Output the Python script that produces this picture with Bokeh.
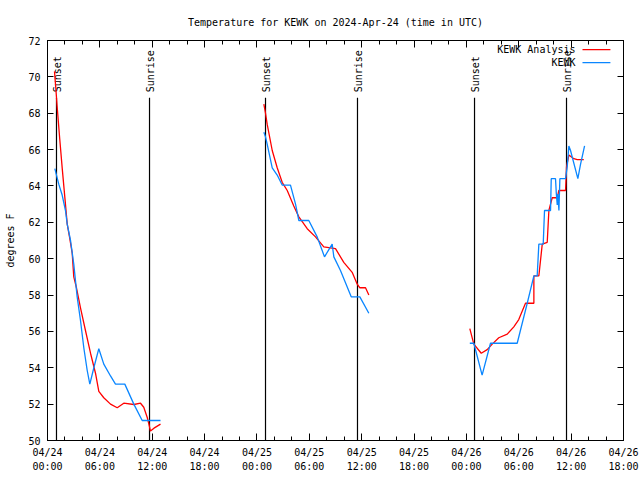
import math
import pandas as pd
from bokeh.plotting import figure
from bokeh.models import (Range1d, FixedTicker, DatetimeAxis, LinearAxis,
                          CustomJSTickFormatter, DatetimeTickFormatter, Label)
from bokeh.embed import file_html
from bokeh.resources import INLINE
from bokeh.core.properties import value

BASE = pd.Timestamp("2024-04-24 00:00")
NAN = float("nan")

# KEWK Analysis (hours since 2024-04-24 00:00 UTC, degrees F); NaN breaks the line
an_hours = [0.80, 0.95, 1.10, 1.40, 1.70, 2.00, 2.26, 2.52, 2.83, 3.01, 3.32, 3.78,
            4.35, 4.93, 5.50, 5.88, 6.45, 7.22, 7.99, 8.74, 9.89, 10.66, 11.03,
            11.42, 11.61, 11.80, 12.20, 12.95,
            13.0,
            24.79, 24.98, 25.17, 25.75, 26.32, 26.89, 27.47, 28.22, 28.80, 29.76,
            30.71, 31.66, 33.00, 33.95, 34.91, 35.49, 35.79, 36.44, 36.82,
            37.0,
            48.39, 48.85, 49.70, 50.38, 50.96, 51.71, 52.68, 53.43, 54.00, 54.77,
            55.73, 55.73, 56.30, 56.69, 57.26, 57.45, 57.83, 58.41, 58.59, 59.36,
            59.47, 59.74, 60.31, 60.70, 61.45]
an_temp = [70.3, 69.4, 68.4, 66.6, 64.9, 63.3, 61.9, 61.2, 60.3, 59.0, 58.4, 57.3,
           56.05, 54.8, 53.7, 52.7, 52.35, 52.0, 51.8, 52.05, 51.98, 52.05, 51.83,
           51.28, 50.92, 50.52, 50.68, 50.9,
           NAN,
           68.5, 68.0, 67.4, 65.95, 65.0, 64.2, 63.75, 62.9, 62.3, 61.65,
           61.2, 60.65, 60.55, 59.8, 59.25, 58.6, 58.4, 58.4, 58.0,
           NAN,
           56.15, 55.3, 54.8, 55.0, 55.3, 55.65, 55.85, 56.25, 56.65, 57.55,
           57.55, 59.05, 59.05, 60.8, 60.9, 62.65, 63.35, 63.35, 63.75, 63.75,
           65.05, 65.7, 65.5, 65.45, 65.45]

# KEWK observations
ob_hours = [0.84, 1.29, 1.68, 2.06, 2.26, 2.64, 3.01, 3.40, 3.78, 4.16, 4.55, 4.85,
            5.31, 5.88, 6.45, 7.22, 7.79, 8.86, 9.89, 10.85, 12.95,
            13.0,
            24.79, 24.98, 25.17, 25.75, 26.32, 26.89, 27.84, 28.42, 28.80, 29.94,
            30.90, 31.74, 32.62, 32.81, 33.57, 34.80, 35.79, 36.82,
            37.0,
            48.39, 48.85, 49.80, 50.76, 53.82, 54.97, 55.73, 56.11, 56.30, 56.80,
            56.95, 57.64, 57.72, 58.21, 58.30, 58.41, 58.48, 58.60, 58.71, 59.36,
            59.55, 59.74, 59.93, 60.77, 61.08, 61.54]
ob_temp = [64.95, 64.1, 63.5, 62.65, 61.9, 61.0, 59.7, 57.9, 56.6, 55.1, 53.85, 53.1,
           54.0, 55.05, 54.2, 53.55, 53.1, 53.1, 52.0, 51.1, 51.1,
           NAN,
           66.95, 66.7, 66.3, 65.0, 64.6, 64.05, 64.05, 63.0, 62.1, 62.1,
           61.2, 60.1, 60.8, 60.1, 59.35, 57.9, 57.9, 57.0,
           NAN,
           55.35, 55.35, 53.6, 55.35, 55.35, 57.55, 59.05, 59.05, 60.8, 60.8,
           62.65, 62.65, 64.4, 64.4, 63.6, 62.95, 63.55, 62.65, 64.4, 64.4,
           65.05, 66.2, 65.95, 64.4, 65.2, 66.2]

sun_hours = [1.03, 11.69, 24.98, 35.52, 48.93, 59.47]
sun_labels = ["Sunset", "Sunrise", "Sunset", "Sunrise", "Sunset", "Sunrise"]

x_tick_hours = list(range(0, 67, 6))
x_minor_hours = list(range(0, 67, 2))
y_ticks = list(range(50, 73, 2))

FONT = "DejaVu Sans Mono"
RED = "#ff0000"
BLUE = "#0a86ff"


def ms(h):
    return (BASE + pd.Timedelta(hours=h)).value / 1e6


def tdt(hours):
    return [BASE + pd.Timedelta(hours=h) for h in hours]


p = figure(width=640, height=480, output_backend="svg", toolbar_location=None,
           x_axis_type="datetime",
           x_range=Range1d(ms(0), ms(66)), y_range=Range1d(50, 72),
           min_border_left=47, min_border_right=17, min_border_top=40,
           min_border_bottom=40)

p.title.text = "Temperature for KEWK on 2024-Apr-24 (time in UTC)"
p.title.text_font = FONT
p.title.text_font_size = "10px"
p.title.text_font_style = "normal"
p.title.text_color = "black"
p.title.align = "center"
p.title.standoff = 26

p.xgrid.visible = False
p.ygrid.visible = False
p.outline_line_color = "black"
p.outline_line_width = 1
p.background_fill_color = "white"
p.border_fill_color = "white"

xticker = FixedTicker(ticks=[ms(h) for h in x_tick_hours],
                      minor_ticks=[ms(h) for h in x_minor_hours])
yticker = FixedTicker(ticks=y_ticks, minor_ticks=[])

fmt = "%m/%d\n%H:%M"
xa = p.xaxis[0]
xa.ticker = xticker
xa.formatter = DatetimeTickFormatter(microseconds=fmt, milliseconds=fmt, seconds=fmt,
                                     minsec=fmt, minutes=fmt, hourmin=fmt, hours=fmt,
                                     days=fmt, months=fmt, years=fmt)
ya = p.yaxis[0]
ya.ticker = yticker
ya.axis_label = "degrees F"

for ax in (xa, ya):
    ax.major_tick_in = 7
    ax.major_tick_out = 0
    ax.minor_tick_in = 4
    ax.minor_tick_out = 0
    ax.axis_line_color = "black"
    ax.major_tick_line_color = "black"
    ax.minor_tick_line_color = "black"
    ax.major_label_text_font = FONT
    ax.major_label_text_font_size = "10px"
    ax.major_label_text_color = "black"
    ax.axis_label_text_font = FONT
    ax.axis_label_text_font_size = "10px"
    ax.axis_label_text_font_style = "normal"
    ax.axis_label_text_color = "black"
ya.major_tick_in = 6
xa.major_label_standoff = 6
xa.major_label_text_line_height = 1.3
ya.major_label_standoff = 7
ya.axis_label_standoff = 9

blank = "return ''"
top = DatetimeAxis(ticker=xticker, formatter=CustomJSTickFormatter(code=blank),
                   major_tick_in=7, major_tick_out=0, minor_tick_in=4, minor_tick_out=0,
                   major_label_standoff=0, major_label_text_font_size="1px")
right = LinearAxis(ticker=yticker, formatter=CustomJSTickFormatter(code=blank),
                   major_tick_in=6, major_tick_out=0, minor_tick_in=0, minor_tick_out=0,
                   major_label_standoff=0, major_label_text_font_size="1px")
p.add_layout(top, "above")
p.add_layout(right, "right")

# sunrise / sunset markers
sx = tdt(sun_hours)
p.segment(x0=sx, y0=[50] * len(sx), x1=sx, y1=[68.85] * len(sx),
          line_color="black", line_width=1.2)
p.text(x=sx, y=[69.15] * len(sx), text=sun_labels, angle=math.pi / 2,
       text_align="left", text_baseline="middle", x_offset=1,
       text_font=value(FONT), text_font_size="10px", text_color="black")

# data lines
p.line(tdt(an_hours), an_temp, line_color=RED, line_width=1.3)
p.line(tdt(ob_hours), ob_temp, line_color=BLUE, line_width=1.3)

# legend (gnuplot style: label left, sample right)
lx_text = ms(60.5)
lx0, lx1 = ms(61.3), ms(64.5)
leg_y = [71.5, 70.78]
for name, col, yy in (("KEWK Analysis", RED, leg_y[0]), ("KEWK", BLUE, leg_y[1])):
    p.add_layout(Label(x=lx_text, y=yy, text=name, text_align="right",
                       text_baseline="middle", text_font=FONT,
                       text_font_size="10px", text_color="black"))
    p.segment(x0=[lx0], y0=[yy], x1=[lx1], y1=[yy], line_color=col, line_width=1.3)

open("out.html", "w").write(file_html(p, INLINE))
